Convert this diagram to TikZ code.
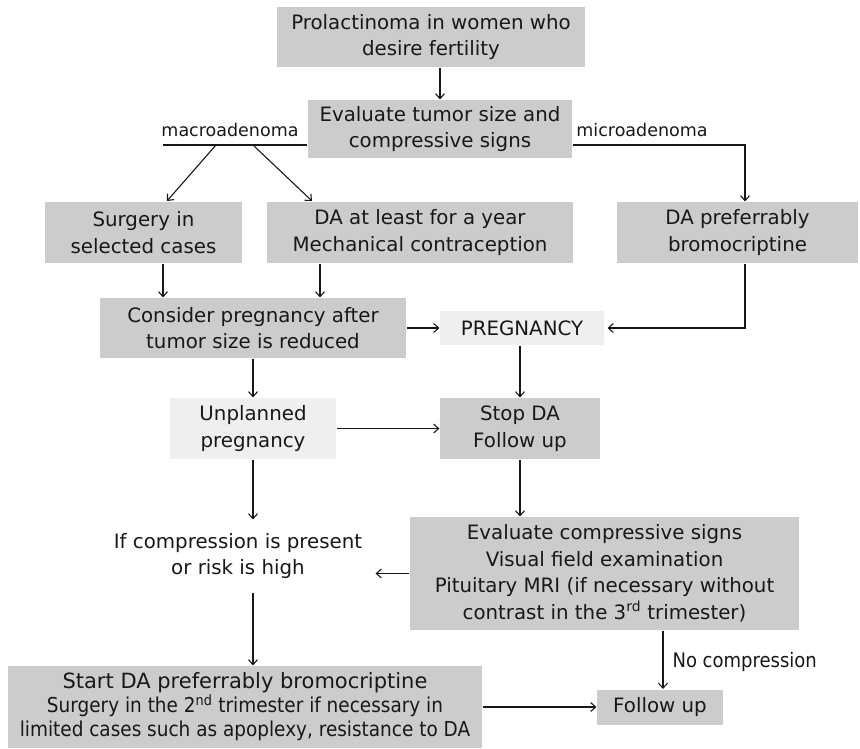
\documentclass[tikz,border=0pt]{standalone}
\usepackage{fontspec}
\setmainfont{DejaVu Sans}
\newfontfamily\narrowfont[FakeStretch=0.9]{DejaVu Sans}
\usetikzlibrary{arrows.meta}
\definecolor{boxgray}{RGB}{204,204,204}
\definecolor{palegray}{RGB}{239,239,239}
\definecolor{inkgray}{RGB}{24,24,24}
\tikzset{>={Straight Barb[length=5pt,width=9pt]}}
\tikzset{
  box/.style={fill=boxgray,align=center,inner sep=0pt,text=inkgray,
    font=\fontsize{19.8}{26.5}\selectfont},
  lbox/.style={box,fill=palegray},
  lab/.style={text=inkgray,inner sep=0pt,font=\fontsize{17.5}{20}\selectfont}
}

\begin{document}
\begin{tikzpicture}[x=1pt,y=-1pt,line width=1.1pt,draw=inkgray]
      \useasboundingbox (0,0) rectangle (860,748);
      \node[box,minimum width=308,minimum height=60] (prl) at (431,37) {Prolactinoma in women who\\desire fertility};
      \node[box,minimum width=264,minimum height=58] (evs) at (440,129) {Evaluate tumor size and\\compressive signs};
      \node[box,minimum width=197,minimum height=61] (sur) at (143.5,232.5) {Surgery in\\selected cases};
      \node[box,minimum width=306,minimum height=61] (day) at (420,232.5) {DA at least for a year\\Mechanical contraception};
      \node[box,minimum width=241,minimum height=61] (dab) at (737.5,232.5) {DA preferrably\\bromocriptine};
      \node[box,minimum width=306,minimum height=60] (cns) at (253,328) {Consider pregnancy after\\tumor size is reduced};
      \node[lbox,minimum width=164,minimum height=34] (prg) at (522,328) {PREGNANCY};
      \node[lbox,minimum width=166,minimum height=61] (unp) at (253,428.5) {Unplanned\\pregnancy};
      \node[box,minimum width=160,minimum height=61] (stp) at (520,428.5) {Stop DA\\Follow up};
      \node[box,minimum width=389,minimum height=113] (evc) at (604.5,573.5) {Evaluate compressive signs\\Visual field examination\\Pituitary MRI (if necessary without\\contrast in the 3\textsuperscript{rd} trimester)};
      \node[box,fill=none,minimum width=274,minimum height=72] (ifc) at (238,556) {If compression is present\\or risk is high};
      \node[box,minimum width=474,minimum height=82,font=\fontsize{21}{24}\selectfont] (sta) at (245,707) {Start DA preferrably bromocriptine\\{\narrowfont\fontsize{20.5}{24}\selectfont Surgery in the 2\textsuperscript{nd} trimester if necessary in}\\{\narrowfont\fontsize{20.5}{24}\selectfont limited cases such as apoplexy, resistance to DA}};
      \node[box,minimum width=126,minimum height=35] (flw) at (660,707) {Follow up};
      \node[lab] (mac) at (230,130) {macroadenoma};
      \node[lab] (mic) at (642,130) {microadenoma};
      \node[lab,anchor=west,font=\narrowfont\fontsize{20}{22}\selectfont] (noc) at (672,662) {No compression};
      \coordinate (ml) at (163,145);
      \coordinate (mr) at (745,145);
      \coordinate (m1) at (216,145);
      \coordinate (m2) at (253,145);
      \coordinate (s1) at (167,201);
      \coordinate (s2) at (312,201);
      \coordinate (a1) at (163,0);
      \coordinate (a2) at (320,0);
      \coordinate (a3) at (663,0);
      \draw[->] (prl.south -| evs) -- (evs.north);
      \draw (ml) -- (evs.west |- ml);
      \draw[->] (m1) -- (s1);
      \draw[->] (m2) -- (s2);
      \draw[->] (evs.east |- mr) -- (mr) -- (dab.north -| mr);
      \draw[->] (sur.south -| a1) -- (cns.north -| a1);
      \draw[->] (day.south -| a2) -- (cns.north -| a2);
      \draw[->] (cns) -- (prg);
      \draw[->] (dab.south -| mr) |- ([xshift=3pt]prg.east);
      \draw[->] (prg.south -| stp) -- (stp.north);
      \draw[->] (cns.south) -- (unp.north);
      \draw[->] (unp) -- (stp);
      \draw[->] (unp.south) -- (unp.south |- ifc.north);
      \draw[->] (ifc.south -| unp.south) -- (sta.north -| unp.south);
      \draw[->] (stp.south) -- (stp.south |- evc.north);
      \draw[->] (evc.west) -- (ifc.east |- evc.west);
      \draw[->] (evc.south -| a3) -- (flw.north -| a3);
      \draw[->] (sta.east |- flw) -- (flw.west);
\end{tikzpicture}
\end{document}
